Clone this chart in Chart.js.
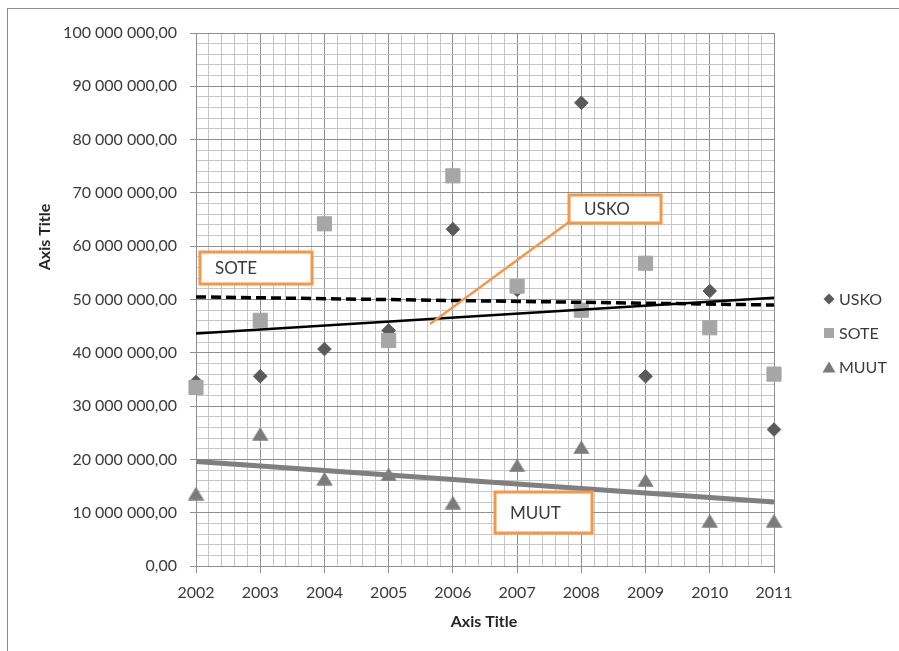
<!DOCTYPE html>
<html>
<head>
<meta charset="utf-8">
<script src="https://cdn.jsdelivr.net/npm/chart.js@4/dist/chart.umd.min.js"></script>
<style>
html,body{margin:0;padding:0;background:#fff;}
#wrap{width:899px;height:651px;position:relative;overflow:hidden;}
canvas{display:block;}
</style>
</head>
<body>
<div id="wrap"><canvas id="c" width="899" height="651"></canvas></div>
<script>
// ---- data ----
const years = [2002, 2003, 2004, 2005, 2006, 2007, 2008, 2009, 2010, 2011];
const usko  = [34500000, 35600000, 40700000, 44200000, 63200000, 51800000, 86900000, 35600000, 51600000, 25600000];
const sote  = [33500000, 46100000, 64200000, 42300000, 73200000, 52500000, 48000000, 56800000, 44700000, 36000000];
const muut  = [13600000, 24800000, 16400000, 17200000, 11900000, 18900000, 22300000, 16100000, 8500000, 8500000];
const seriesNames = ['USKO', 'SOTE', 'MUUT'];
const calloutTexts = ['SOTE', 'USKO', 'MUUT'];
const axisTitleX = 'Axis Title';
const axisTitleY = 'Axis Title';
const yMin = 0, yMax = 100000000, yMinorStep = 2000000, yMajorStep = 10000000;
const xMinorStep = 0.2;

// ---- styles ----
const COL_USKO = '#5a5a5a', COL_SOTE = '#a6a6a6', COL_MUUT = '#7b7b7b';
const GRID_MAJOR = '#8e8e8e', GRID_MINOR = '#c6c6c6';
const ORANGE = '#f79646';
const TEXT = '#3a3a3a';
const FONT = 'Lato';

function pairs(vals) { return years.map((y, i) => ({ x: y, y: vals[i] })); }
function trend(vals) {
  const n = years.length;
  const mx = years.reduce((a, b) => a + b, 0) / n;
  const my = vals.reduce((a, b) => a + b, 0) / n;
  let sxy = 0, sxx = 0;
  for (let i = 0; i < n; i++) { sxy += (years[i] - mx) * (vals[i] - my); sxx += (years[i] - mx) ** 2; }
  const b = sxy / sxx, a = my - b * mx;
  const x0 = years[0], x1 = years[n - 1];
  return [{ x: x0, y: a + b * x0 }, { x: x1, y: a + b * x1 }];
}
function triImg(w, h, color) {
  const c = document.createElement('canvas');
  c.width = w; c.height = h;
  const g = c.getContext('2d');
  g.fillStyle = color;
  g.beginPath();
  g.moveTo(w / 2, 0.3); g.lineTo(w - 0.3, h - 0.3); g.lineTo(0.3, h - 0.3);
  g.closePath(); g.fill();
  return c;
}
function fmtNum(v) {
  return Math.round(v).toString().replace(/\B(?=(\d{3})+(?!\d))/g, ' ') + ',00';
}
const isIntYear = v => Math.abs(v - Math.round(v)) < 1e-6;
const isMajorY = v => Math.abs(v / yMajorStep - Math.round(v / yMajorStep)) < 1e-6;

// callout layout (pixel positions of decorative text boxes)
const callouts = [
  { text: calloutTexts[0], x: 200, y: 252, w: 112, h: 32, tx: 215 },
  { text: calloutTexts[1], x: 569, y: 195, w: 92, h: 28, tx: 584 },
  { text: calloutTexts[2], x: 495, y: 492, w: 97, h: 41, tx: 510 }
];
const leader = { x1: 569, y1: 222, x2: 430, y2: 324 };
const legendPos = { mx: 829, tx: 839, rows: [299, 333, 367] };

function drawMarker(ctx, kind, x, y, color) {
  ctx.save();
  ctx.fillStyle = color;
  ctx.beginPath();
  if (kind === 0) { const r = 5.5; ctx.moveTo(x, y - r); ctx.lineTo(x + r, y); ctx.lineTo(x, y + r); ctx.lineTo(x - r, y); }
  else if (kind === 1) { ctx.rect(x - 5, y - 5, 10, 10); }
  else { ctx.moveTo(x, y - 5.5); ctx.lineTo(x + 6.5, y + 5.5); ctx.lineTo(x - 6.5, y + 5.5); }
  ctx.closePath(); ctx.fill();
  ctx.restore();
}

const decor = {
  id: 'decor',
  afterDatasetsDraw(chart) {
    const ctx = chart.ctx;
    ctx.save();
    // leader line
    ctx.strokeStyle = ORANGE; ctx.lineWidth = 2.5;
    ctx.beginPath(); ctx.moveTo(leader.x1, leader.y1); ctx.lineTo(leader.x2, leader.y2); ctx.stroke();
    // callout boxes
    callouts.forEach(c => {
      ctx.fillStyle = '#ffffff';
      ctx.fillRect(c.x, c.y, c.w, c.h);
      ctx.strokeStyle = ORANGE; ctx.lineWidth = 3;
      ctx.strokeRect(c.x, c.y, c.w, c.h);
      ctx.fillStyle = TEXT;
      ctx.font = '17px ' + FONT;
      ctx.textBaseline = 'middle'; ctx.textAlign = 'left';
      ctx.fillText(c.text, c.tx, c.y + c.h / 2 + 1);
    });
    ctx.restore();
  },
  afterDraw(chart) {
    const ctx = chart.ctx;
    ctx.save();
    // axis titles
    ctx.fillStyle = '#262626';
    ctx.font = 'bold 16px ' + FONT;
    ctx.textAlign = 'center'; ctx.textBaseline = 'middle';
    ctx.fillText(axisTitleX, 484, 622);
    ctx.save();
    ctx.translate(45, 237); ctx.rotate(-Math.PI / 2);
    ctx.fillText(axisTitleY, 0, 0);
    ctx.restore();
    // legend
    const cols = [COL_USKO, COL_SOTE, COL_MUUT];
    ctx.font = '16px ' + FONT; ctx.textAlign = 'left'; ctx.fillStyle = TEXT;
    seriesNames.forEach((n, i) => {
      drawMarker(ctx, i, legendPos.mx, legendPos.rows[i], cols[i]);
      ctx.fillStyle = TEXT;
      ctx.fillText(n, legendPos.tx, legendPos.rows[i] + 1);
    });
    // outer frame
    ctx.strokeStyle = '#8c8c8c'; ctx.lineWidth = 1;
    ctx.strokeRect(7.5, 8.5, 1000, 1000);
    ctx.restore();
  }
};

function build() {
  const triangle = triImg(17, 14, COL_MUUT);
  new Chart(document.getElementById('c'), {
    type: 'scatter',
    data: {
      datasets: [
        { label: 'Linear (USKO)', type: 'line', data: trend(usko), showLine: true, borderColor: '#000', borderWidth: 2.5, pointRadius: 0, fill: false, order: 0, clip: false },
        { label: 'Linear (SOTE)', type: 'line', data: trend(sote), showLine: true, borderColor: '#000', borderWidth: 3.5, borderDash: [10, 5], pointRadius: 0, fill: false, order: 0, clip: false },
        { label: 'Linear (MUUT)', type: 'line', data: trend(muut), showLine: true, borderColor: '#7f7f7f', borderWidth: 5, pointRadius: 0, fill: false, order: 0, clip: false },
        { label: seriesNames[1], data: pairs(sote), pointStyle: 'rect', pointRadius: 10, pointBackgroundColor: COL_SOTE, pointBorderColor: COL_SOTE, pointBorderWidth: 1, order: 2, clip: false },
        { label: seriesNames[0], data: pairs(usko), pointStyle: 'rectRot', pointRadius: 6.8, pointBackgroundColor: COL_USKO, pointBorderColor: COL_USKO, pointBorderWidth: 1, order: 3, clip: false },
        { label: seriesNames[2], data: pairs(muut), pointStyle: triangle, pointRadius: 8, pointBackgroundColor: COL_MUUT, pointBorderColor: COL_MUUT, order: 1, clip: false }
      ]
    },
    options: {
      responsive: false,
      animation: false,
      devicePixelRatio: 1,
      layout: { padding: { left: 0, right: 125, top: 33, bottom: 0 } },
      plugins: { legend: { display: false }, tooltip: { enabled: false }, title: { display: false } },
      scales: {
        x: {
          type: 'linear', min: years[0], max: years[years.length - 1],
          ticks: {
            stepSize: xMinorStep, autoSkip: false, maxRotation: 0, minRotation: 0, padding: 10,
            color: TEXT, font: { family: FONT, size: 16 },
            callback: v => isIntYear(v) ? String(Math.round(v)) : ''
          },
          grid: {
            color: c => (c.tick && isIntYear(c.tick.value)) ? GRID_MAJOR : GRID_MINOR,
            tickColor: c => (c.tick && isIntYear(c.tick.value)) ? GRID_MAJOR : 'rgba(0,0,0,0)',
            tickLength: 7, lineWidth: 1
          },
          border: { color: GRID_MAJOR, width: 1 },
          afterFit: s => { s.height = 85; }
        },
        y: {
          type: 'linear', min: yMin, max: yMax,
          ticks: {
            stepSize: yMinorStep, autoSkip: false, padding: 13,
            color: TEXT, font: { family: FONT, size: 16 },
            callback: v => isMajorY(v) ? fmtNum(v) : ''
          },
          grid: {
            color: c => (c.tick && isMajorY(c.tick.value)) ? GRID_MAJOR : GRID_MINOR,
            tickColor: c => (c.tick && isMajorY(c.tick.value)) ? GRID_MAJOR : 'rgba(0,0,0,0)',
            tickLength: 6, lineWidth: 1
          },
          border: { color: GRID_MAJOR, width: 1 },
          afterFit: s => { s.width = 196; }
        }
      }
    },
    plugins: [decor]
  });
}

if (document.fonts && document.fonts.load) {
  Promise.all([
    document.fonts.load('16px ' + FONT),
    document.fonts.load('bold 16px ' + FONT),
    document.fonts.load('17px ' + FONT)
  ]).then(build, build);
} else { build(); }
</script>
</body>
</html>
